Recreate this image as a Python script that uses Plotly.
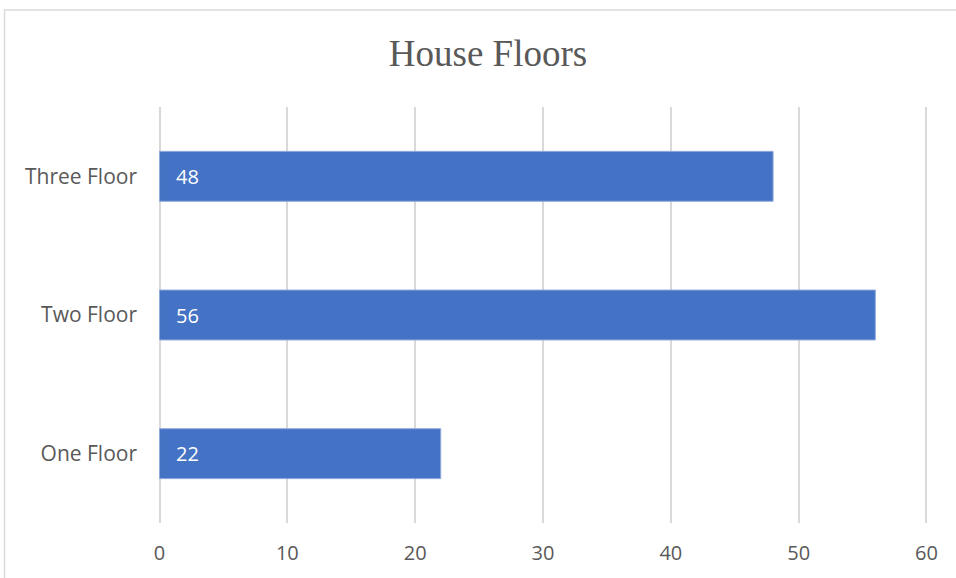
import plotly.graph_objects as go

categories = ["One Floor", "Two Floor", "Three Floor"]
values = [22, 56, 48]
x_ticks = [0, 10, 20, 30, 40, 50, 60]

W, H = 956, 578
pad = 0.12
ppu = 766 / 60
L = round(160 - pad * ppu)
R = round(30 - pad * ppu)
T, B = 107, 53
pw = W - L - R
ph = H - T - B

fig = go.Figure(go.Bar(
    y=categories, x=values, orientation="h",
    marker=dict(color="#4472C4", line=dict(color="#8FAADC", width=1)),
    width=0.36,
))

annotations = [dict(x=0, y=c, xref="x", yref="y", text=str(v), showarrow=False,
                    xanchor="left", yanchor="middle", xshift=14,
                    font=dict(family="Open Sans", size=20, color="white"))
               for c, v in zip(categories, values)]

fig.update_layout(
    width=W, height=H,
    margin=dict(l=L, r=R, t=T, b=B),
    paper_bgcolor="white", plot_bgcolor="white",
    title=dict(text="House Floors", x=488 / W, xanchor="center", xref="container",
               y=1 - 53 / H, yanchor="middle", yref="container",
               font=dict(family="Liberation Serif", size=37, color="#595959")),
    xaxis=dict(range=[-pad, 60 + pad], tickvals=x_ticks, showgrid=True,
               gridcolor="#D9D9D9", gridwidth=1.5, zeroline=True,
               zerolinecolor="#D9D9D9", zerolinewidth=1.5,
               showline=False, ticks="", ticklabelstandoff=16,
               tickfont=dict(family="Open Sans", size=20, color="#595959")),
    yaxis=dict(showgrid=False, zeroline=False, showline=False, ticks="",
               ticklabelstandoff=20,
               tickfont=dict(family="Open Sans", size=21, color="#595959")),
    showlegend=False,
    annotations=annotations,
    shapes=[dict(type="rect", xref="paper", yref="paper",
                 x0=(4.5 - L) / pw, x1=(W + 5 - L) / pw,
                 y0=-(H + 5 - T - ph) / ph, y1=(H - 9.5 - B) / ph,
                 line=dict(color="#D9D9D9", width=1.5), layer="below")],
)

fig.write_html("out.html")
